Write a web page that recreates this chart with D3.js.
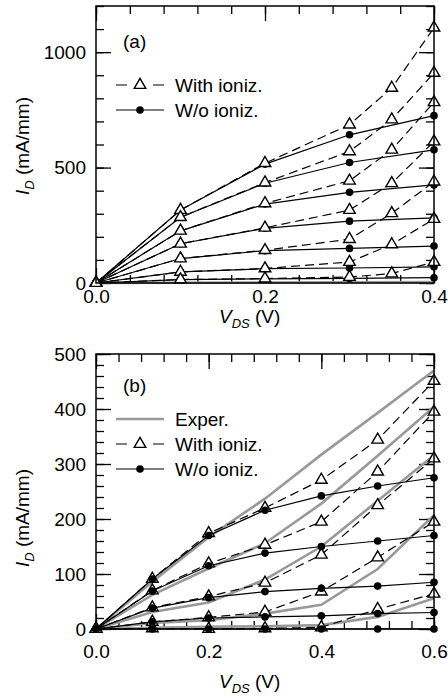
<!DOCTYPE html>
<html>
<head>
<meta charset="utf-8">
<script src="https://cdn.jsdelivr.net/npm/d3@7"></script>
<style>
  body { margin: 0; background: #fff; }
  svg { display: block; font-family: "Liberation Sans", Arial, sans-serif; }
</style>
</head>
<body>
<svg></svg>
<script>
// ---- panel (a) data ----
const vdsA = [0, 0.1, 0.2, 0.3, 0.4];
const vdsIonA = [0, 0.1, 0.2, 0.3, 0.35, 0.4];
// with impact ionization (triangles, dashed)
const ionA = [
  [0, 316, 519, 686, 845, 1106],
  [0, 285, 435, 570, 708, 910],
  [0, 226, 345, 443, 577, 783],
  [0, 170, 239, 316, 432, 613],
  [0, 106, 142, 190, 302, 439],
  [0, 48, 63, 91, 167, 277],
  [0, 15, 19, 26, 41, 91]
];
// without ionization (dots, solid)
const noIonA = [
  [0, 316, 515, 642, 725],
  [0, 285, 432, 522, 577],
  [0, 226, 342, 393, 425],
  [0, 170, 237, 268, 282],
  [0, 106, 140, 150, 160],
  [0, 48, 62, 65, 70],
  [0, 15, 18, 20, 23]
];
const experA = [[0, 1, 2, 3, 4]];
const xMajorA = [0, 0.2, 0.4];
const yMajorA = [0, 500, 1000];

// ---- panel (b) data ----
const vdsB = [0, 0.1, 0.2, 0.3, 0.4, 0.5, 0.6];
const experB = [
  [0, 86, 167, 237, 317, 393, 470],
  [0, 62, 110, 156, 228, 315, 404],
  [0, 31, 48, 90, 150, 233, 316],
  [0, 11, 16, 28, 44, 109, 207],
  [0, 2, 4, 5, 7, 22, 56]
];
const ionB = [
  [0, 91, 174, 220, 271, 344, 451],
  [0, 70, 119, 153, 195, 286, 395],
  [0, 39, 59, 84, 135, 225, 310],
  [0, 13, 21, 31, 68, 130, 195],
  [0, 1, 0, 1, 3, 36, 64]
];
const noIonB = [
  [0, 91, 170, 216, 242, 260, 275],
  [0, 69, 115, 138, 150, 160, 170],
  [0, 38, 57, 68, 74, 78, 85],
  [0, 13, 20, 22, 24, 28, 30],
  [0, 0, 0, 0, 0, 0, 0]
];
const xMajorB = [0, 0.2, 0.4, 0.6];
const yMajorB = [0, 100, 200, 300, 400, 500];

const svg = d3.select("svg").attr("width", 448).attr("height", 700);

const triangle = d3.symbol().type(d3.symbolTriangle).size(58);

function drawPanel(p) {
  const x = d3.scaleLinear().domain(p.xDomain).range([96, 434]);
  const y = d3.scaleLinear().domain(p.yDomain).range([p.bottom, p.top]);
  const g = svg.append("g");

  // minor + major ticks on all four sides, pointing inward
  const minorX = d3.range(p.xDomain[0], p.xDomain[1] + 1e-9, p.xMinor);
  const minorY = d3.range(p.yDomain[0], p.yDomain[1] + 1e-9, p.yMinor);
  const axes = [
    [d3.axisBottom, x, p.bottom, "x"],
    [d3.axisTop, x, p.top, "x"],
    [d3.axisLeft, y, 96, "y"],
    [d3.axisRight, y, 434, "y"]
  ];
  axes.forEach(([ax, sc, pos, dir]) => {
    const t = dir === "x" ? `translate(0,${pos})` : `translate(${pos},0)`;
    g.append("g")
      .attr("transform", t)
      .call(ax(sc).tickValues(dir === "x" ? minorX : minorY).tickSize(-8).tickFormat(""))
      .call(s => s.select(".domain").remove());
    g.append("g")
      .attr("transform", t)
      .call(ax(sc).tickValues(dir === "x" ? p.xMajor : p.yMajor).tickSize(-15).tickFormat(""))
      .call(s => s.select(".domain").remove());
  });
  g.selectAll("line").attr("stroke", "#000").attr("stroke-width", 1.3);

  // tick labels
  g.append("g")
    .attr("transform", `translate(0,${p.bottom})`)
    .call(d3.axisBottom(x).tickValues(p.xMajor).tickSize(0).tickPadding(p.xPad)
      .tickFormat(d3.format(".1f")))
    .call(s => s.select(".domain").remove())
    .selectAll("text").attr("font-size", 19).attr("fill", "#000").attr("font-family", null);
  g.append("g")
    .attr("transform", "translate(96,0)")
    .call(d3.axisLeft(y).tickValues(p.yMajor).tickSize(0).tickPadding(10)
      .tickFormat(d3.format("d")))
    .call(s => s.select(".domain").remove())
    .selectAll("text").attr("font-size", 19).attr("fill", "#000").attr("font-family", null);

  const line = xs => d3.line().x((d, i) => x(xs[i])).y(d => y(d));

  // experimental curves (gray)
  g.selectAll("path.exper")
    .data(p.exper)
    .enter()
    .append("path")
    .attr("class", "exper")
    .attr("d", d => line(p.xNoIon)(d))
    .attr("fill", "none")
    .attr("stroke", "#999")
    .attr("stroke-width", 2.6);

  // dashed: with ionization
  g.selectAll("path.ion")
    .data(p.ion)
    .enter()
    .append("path")
    .attr("class", "ion")
    .attr("d", d => line(p.xIon)(d))
    .attr("fill", "none")
    .attr("stroke", "#000")
    .attr("stroke-width", 1.2)
    .attr("stroke-dasharray", "9,5");

  // solid: without ionization
  g.selectAll("path.noion")
    .data(p.noIon)
    .enter()
    .append("path")
    .attr("class", "noion")
    .attr("d", d => line(p.xNoIon)(d))
    .attr("fill", "none")
    .attr("stroke", "#000")
    .attr("stroke-width", 1.2);

  const triPts = p.ion.flatMap(c => c.map((v, i) => [p.xIon[i], v]));
  const dotPts = p.noIon.flatMap(c => c.map((v, i) => [p.xNoIon[i], v]));

  const drawTri = () => g.selectAll(null)
    .data(triPts)
    .enter()
    .append("path")
    .attr("d", triangle)
    .attr("transform", d => `translate(${x(d[0])},${y(d[1])})`)
    .attr("fill", "#fff")
    .attr("stroke", "#000")
    .attr("stroke-width", 1.4);
  const drawDot = () => g.selectAll(null)
    .data(dotPts)
    .enter()
    .append("circle")
    .attr("cx", d => x(d[0]))
    .attr("cy", d => y(d[1]))
    .attr("r", 3.8)
    .attr("fill", "#000");
  if (p.dotsOnTop) { drawTri(); drawDot(); } else { drawDot(); drawTri(); }

  // frame
  g.append("rect")
    .attr("x", 96).attr("y", p.top)
    .attr("width", 338).attr("height", p.bottom - p.top)
    .attr("fill", "none").attr("stroke", "#000").attr("stroke-width", 1.5);

  // panel tag
  g.append("text").attr("x", 123).attr("y", p.top + p.tagDy)
    .attr("font-size", 19).text(p.tag);

  // legend
  p.legend.forEach((item, i) => {
    const ly = p.top + p.legendY + i * 25;
    const lg = g.append("g");
    if (item.type === "exper") {
      lg.append("line").attr("x1", 116).attr("x2", 164).attr("y1", ly).attr("y2", ly)
        .attr("stroke", "#999").attr("stroke-width", 2.6);
    } else if (item.type === "ion") {
      lg.append("line").attr("x1", 116).attr("x2", 164).attr("y1", ly).attr("y2", ly)
        .attr("stroke", "#000").attr("stroke-width", 1.2).attr("stroke-dasharray", "11,26");
      lg.append("path").attr("d", triangle).attr("transform", `translate(140,${ly})`)
        .attr("fill", "#fff").attr("stroke", "#000").attr("stroke-width", 1.4);
    } else {
      lg.append("line").attr("x1", 116).attr("x2", 164).attr("y1", ly).attr("y2", ly)
        .attr("stroke", "#000").attr("stroke-width", 1.2);
      lg.append("circle").attr("cx", 140).attr("cy", ly).attr("r", 3.8).attr("fill", "#000");
    }
    lg.append("text").attr("x", 175).attr("y", ly).attr("dy", "0.35em")
      .attr("font-size", 19).text(item.label);
  });

  // axis titles
  const xt = g.append("text").attr("x", 219).attr("y", p.bottom + p.xTitleDy).attr("font-size", 19);
  xt.append("tspan").attr("font-style", "italic").text("V");
  xt.append("tspan").attr("font-style", "italic").attr("font-size", 13).attr("dy", 5).text("DS");
  xt.append("tspan").attr("dy", -5).text(" (V)");

  const yt = g.append("text").attr("transform", `translate(29,${p.yTitleY}) rotate(-90)`)
    .attr("text-anchor", "middle").attr("font-size", 19);
  yt.append("tspan").attr("font-style", "italic").text("I");
  yt.append("tspan").attr("font-style", "italic").attr("font-size", 13).attr("dy", 5).text("D");
  yt.append("tspan").attr("dy", -5).text(" (mA/mm)");
}

drawPanel({
  xDomain: [0, 0.4], yDomain: [0, 1200], top: 6, bottom: 283,
  xMajor: xMajorA, yMajor: yMajorA, xMinor: 0.04, yMinor: 100, xPad: 7,
  xIon: vdsIonA, xNoIon: vdsA, ion: ionA, noIon: noIonA, exper: experA,
  dotsOnTop: false, tag: "(a)", tagDy: 42, legendY: 79,
  legend: [{ type: "ion", label: "With ioniz." }, { type: "noion", label: "W/o ioniz." }],
  xTitleDy: 40, yTitleY: 146
});

drawPanel({
  xDomain: [0, 0.6], yDomain: [0, 500], top: 354, bottom: 629,
  xMajor: xMajorB, yMajor: yMajorB, xMinor: 0.04, yMinor: 20, xPad: 16,
  xIon: vdsB, xNoIon: vdsB, ion: ionB, noIon: noIonB, exper: experB,
  dotsOnTop: true, tag: "(b)", tagDy: 38, legendY: 65,
  legend: [{ type: "exper", label: "Exper." }, { type: "ion", label: "With ioniz." },
    { type: "noion", label: "W/o ioniz." }],
  xTitleDy: 59, yTitleY: 518
});
</script>
</body>
</html>
